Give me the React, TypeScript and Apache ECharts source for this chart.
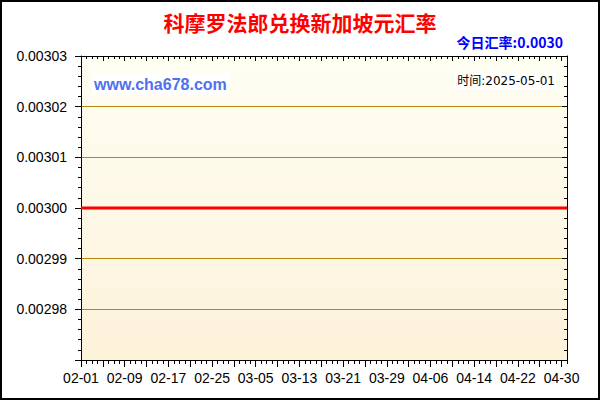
import React, { useEffect, useRef } from "react";
import * as echarts from "echarts";

const titleText = "科摩罗法郎兑换新加坡元汇率";
const todayRate = "今日汇率:0.0030";
const siteText = "www.cha678.com";
const timeText = "时间:2025-05-01";

// Categories: daily dates 02-01 .. 05-01
const monthDays: [string, number][] = [["02", 28], ["03", 31], ["04", 30], ["05", 1]];
const dates: string[] = [];
for (const [m, n] of monthDays) {
  for (let d = 1; d <= n; d++) dates.push(`${m}-${String(d).padStart(2, "0")}`);
}

// Rate values (flat at 0.0030 over the whole period)
const rates: number[] = [
  0.003, 0.003, 0.003, 0.003, 0.003, 0.003, 0.003, 0.003, 0.003, 0.003,
  0.003, 0.003, 0.003, 0.003, 0.003, 0.003, 0.003, 0.003, 0.003, 0.003,
  0.003, 0.003, 0.003, 0.003, 0.003, 0.003, 0.003, 0.003, 0.003, 0.003,
  0.003, 0.003, 0.003, 0.003, 0.003, 0.003, 0.003, 0.003, 0.003, 0.003,
  0.003, 0.003, 0.003, 0.003, 0.003, 0.003, 0.003, 0.003, 0.003, 0.003,
  0.003, 0.003, 0.003, 0.003, 0.003, 0.003, 0.003, 0.003, 0.003, 0.003,
  0.003, 0.003, 0.003, 0.003, 0.003, 0.003, 0.003, 0.003, 0.003, 0.003,
  0.003, 0.003, 0.003, 0.003, 0.003, 0.003, 0.003, 0.003, 0.003, 0.003,
  0.003, 0.003, 0.003, 0.003, 0.003, 0.003, 0.003, 0.003, 0.003, 0.003,
];

const yMin = 0.00297;
const yMax = 0.00303;
const yStep = 0.00001;

export default function App() {
  const ref = useRef<HTMLDivElement>(null);
  useEffect(() => {
    if (!ref.current) return;
    const chart = echarts.init(ref.current, null, { renderer: "svg" });
    const black = "#000";
    const baseX = {
      type: "category" as const,
      data: dates,
      boundaryGap: false,
      gridIndex: 0,
    };
    chart.setOption({
      animation: false,
      backgroundColor: "#fff",
      grid: {
        left: 81,
        right: 33,
        top: 56,
        bottom: 40,
        show: true,
        borderWidth: 0,
        backgroundColor: new echarts.graphic.LinearGradient(0, 0, 0, 1, [
          { offset: 0, color: "#FEFEF3" },
          { offset: 1, color: "#FDF2DA" },
        ]),
      },
      xAxis: [
        {
          ...baseX,
          position: "bottom",
          axisLine: { show: true, lineStyle: { color: black, width: 1 } },
          axisTick: { show: true, interval: 0, length: 4, lineStyle: { color: black } },
          axisLabel: {
            interval: 7,
            color: "#000",
            fontSize: 14,
            fontFamily: "Liberation Sans, Arial, sans-serif",
            margin: 11,
          },
          splitLine: { show: false },
        },
        {
          ...baseX,
          position: "bottom",
          axisLine: { show: false },
          axisTick: { show: true, interval: 3, length: 7, lineStyle: { color: black } },
          axisLabel: { show: false },
          splitLine: { show: false },
        },
        {
          ...baseX,
          position: "top",
          axisLine: { show: true, lineStyle: { color: black, width: 1 } },
          axisTick: { show: true, inside: true, interval: 0, length: 3, lineStyle: { color: black } },
          axisLabel: { show: false },
          splitLine: { show: false },
        },
        {
          ...baseX,
          position: "top",
          axisLine: { show: false },
          axisTick: { show: true, inside: true, interval: 3, length: 5, lineStyle: { color: black } },
          axisLabel: { show: false },
          splitLine: { show: false },
        },
      ],
      yAxis: [
        {
          type: "value",
          position: "left",
          min: yMin,
          max: yMax,
          interval: yStep,
          axisLine: { show: true, lineStyle: { color: black, width: 1 } },
          axisTick: { show: true, length: 6, lineStyle: { color: black } },
          minorTick: { show: true, splitNumber: 5, length: 3, lineStyle: { color: black } },
          axisLabel: {
            showMinLabel: false,
            color: "#000",
            fontSize: 14,
            fontFamily: "Liberation Sans, Arial, sans-serif",
            margin: 14,
            formatter: (v: number) => v.toFixed(5),
          },
          splitLine: { show: true, lineStyle: { color: "#B8860B", width: 1 } },
        },
        {
          type: "value",
          position: "right",
          min: yMin,
          max: yMax,
          interval: yStep,
          axisLine: { show: true, lineStyle: { color: black, width: 1 } },
          axisTick: { show: true, inside: true, length: 5, lineStyle: { color: black } },
          minorTick: { show: true, splitNumber: 5, length: 3, lineStyle: { color: black } },
          axisLabel: { show: false },
          splitLine: { show: false },
        },
      ],
      series: [
        {
          type: "line",
          data: rates,
          xAxisIndex: 0,
          yAxisIndex: 0,
          symbol: "none",
          lineStyle: { color: "#FF0000", width: 3 },
          itemStyle: { color: "#FF0000" },
          z: 5,
        },
      ],
      graphic: [
        {
          type: "rect",
          shape: { x: 1, y: 1, width: 598, height: 398 },
          style: { fill: "none", stroke: "#000", lineWidth: 2 },
          z: 100,
        },
        {
          type: "text",
          x: 300,
          y: 22,
          style: {
            text: titleText,
            fill: "#FF0000",
            font: "bold 21px 'Noto Sans CJK SC', sans-serif",
            textAlign: "center",
            textVerticalAlign: "middle",
          },
          z: 100,
        },
        {
          type: "text",
          x: 563,
          y: 42,
          style: {
            text: todayRate,
            fill: "#0000FF",
            font: "bold 14px 'Noto Sans CJK SC', sans-serif",
            textAlign: "right",
            textVerticalAlign: "middle",
          },
          z: 100,
        },
        {
          type: "text",
          x: 92,
          y: 84,
          style: {
            text: siteText,
            fill: "#5070F0",
            font: "bold 16px 'Liberation Sans', Arial, sans-serif",
            textAlign: "left",
            textVerticalAlign: "middle",
            backgroundColor: "#fff",
            padding: [3, 2, 3, 2],
          },
          z: 100,
        },
        {
          type: "text",
          x: 557,
          y: 81,
          style: {
            text: timeText,
            fill: "#000",
            font: "12px 'DejaVu Sans', 'Noto Sans CJK SC', sans-serif",
            textAlign: "right",
            textVerticalAlign: "middle",
            backgroundColor: "#fff",
            padding: [2, 2, 2, 2],
          },
          z: 100,
        },
      ],
    });
    return () => chart.dispose();
  }, []);
  return (
    <div
      ref={ref}
      style={{ position: "fixed", left: 0, top: 0, width: 600, height: 400 }}
    />
  );
}
